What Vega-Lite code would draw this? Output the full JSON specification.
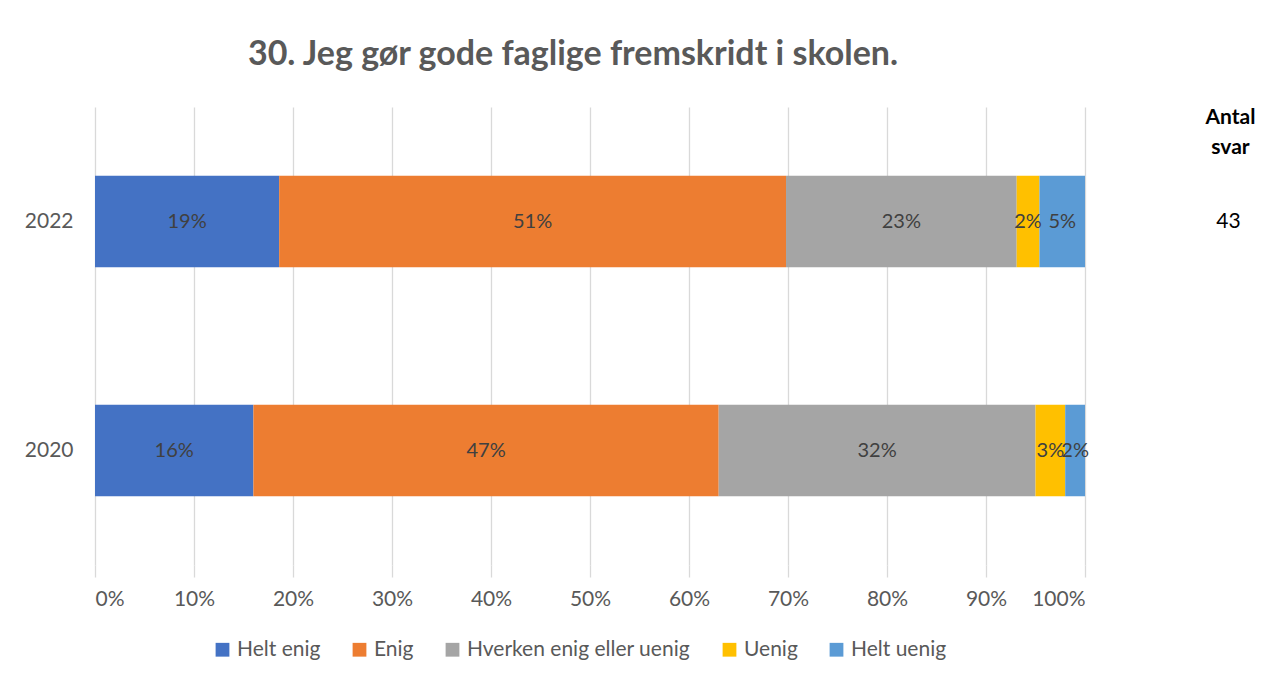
{
  "$schema": "https://vega.github.io/schema/vega-lite/v6.json",
  "autosize": "none",
  "width": 990,
  "height": 458,
  "padding": {"left": 95, "top": 107, "right": 181, "bottom": 119},
  "background": "white",
  "config": {"view": {"stroke": null}, "font": "Lato"},
  "title": {
    "text": "30. Jeg gør gode faglige fremskridt i skolen.",
    "fontSize": 34,
    "fontWeight": "bold",
    "color": "#595959",
    "font": "Lato",
    "anchor": "middle",
    "dx": -17,
    "offset": 34
  },
  "data": {
    "values": [
      {"year": "2022", "svar": "Helt enig", "k": 1, "value": 0.186},
      {"year": "2022", "svar": "Enig", "k": 2, "value": 0.512},
      {"year": "2022", "svar": "Hverken enig eller uenig", "k": 3, "value": 0.233},
      {"year": "2022", "svar": "Uenig", "k": 4, "value": 0.023},
      {"year": "2022", "svar": "Helt uenig", "k": 5, "value": 0.046},
      {"year": "2020", "svar": "Helt enig", "k": 1, "value": 0.16},
      {"year": "2020", "svar": "Enig", "k": 2, "value": 0.47},
      {"year": "2020", "svar": "Hverken enig eller uenig", "k": 3, "value": 0.32},
      {"year": "2020", "svar": "Uenig", "k": 4, "value": 0.03},
      {"year": "2020", "svar": "Helt uenig", "k": 5, "value": 0.02}
    ]
  },
  "transform": [
    {"stack": "value", "groupby": ["year"], "sort": [{"field": "k", "order": "ascending"}], "as": ["v0", "v1"]},
    {"calculate": "(datum.v0 + datum.v1) / 2", "as": "mid"}
  ],
  "layer": [
    {
      "mark": {"type": "bar"},
      "encoding": {
        "y": {
          "field": "year", "type": "nominal", "sort": ["2022", "2020"],
          "scale": {"paddingInner": 0.6, "paddingOuter": 0.3},
          "axis": {"title": null, "ticks": false, "domain": false, "labelFontSize": 21, "labelColor": "#595959", "labelPadding": 22, "labelFont": "Lato", "labelFontWeight": "normal"}
        },
        "x": {
          "field": "v0", "type": "quantitative",
          "scale": {"domain": [0, 1], "nice": false, "zero": true},
          "axis": {"title": null, "format": ".0%", "values": [0, 0.1, 0.2, 0.3, 0.4, 0.5, 0.6, 0.7, 0.8, 0.9, 1], "grid": true, "gridColor": "#d9d9d9", "gridWidth": 1.3, "domain": false, "ticks": true, "tickSize": 12, "tickColor": "#d9d9d9", "tickWidth": 1.3, "labelFontSize": 21, "labelColor": "#595959", "labelPadding": 11, "labelFont": "Lato"}
        },
        "x2": {"field": "v1"},
        "color": {
          "field": "svar", "type": "nominal",
          "scale": {
            "domain": ["Helt enig", "Enig", "Hverken enig eller uenig", "Uenig", "Helt uenig"],
            "range": ["#4472C4", "#ED7D31", "#A5A5A5", "#FFC000", "#5B9BD5"]
          },
          "legend": {
            "title": null, "orient": "none", "direction": "horizontal",
            "legendX": 117, "legendY": 532,
            "symbolType": "square", "symbolSize": 190, "symbolStrokeWidth": 0,
            "labelFontSize": 21, "labelColor": "#595959", "labelFont": "Lato", "labelLimit": 0,
            "labelOffset": 4, "columnPadding": 28
          }
        }
      }
    },
    {
      "mark": {"type": "text", "fontSize": 20, "color": "#404040", "font": "Lato"},
      "encoding": {
        "y": {"field": "year", "type": "nominal", "sort": ["2022", "2020"], "axis": null},
        "x": {"field": "mid", "type": "quantitative"},
        "text": {"field": "value", "type": "quantitative", "format": ".0%"}
      }
    },
    {
      "transform": [{"filter": "datum.year == '2022' && datum.k == 1"}],
      "mark": {"type": "text", "fontSize": 21, "color": "#000000", "font": "Lato", "clip": false},
      "encoding": {
        "y": {
          "field": "year", "type": "nominal", "sort": ["2022", "2020"],
          "axis": {"orient": "right", "labels": false, "ticks": false, "domain": false, "grid": false,
            "title": ["Antal", "svar"], "titleAngle": 0, "titleAlign": "center", "titleBaseline": "top",
            "titleX": 145, "titleY": -1, "titleFontSize": 21, "titleFontWeight": "bold", "titleColor": "#000000", "titleFont": "Lato", "titleLineHeight": 30}
        },
        "x": {"datum": 1.145, "type": "quantitative"},
        "text": {"value": "43"}
      }
    }
  ],
  "resolve": {"axis": {"y": "independent"}}
}
